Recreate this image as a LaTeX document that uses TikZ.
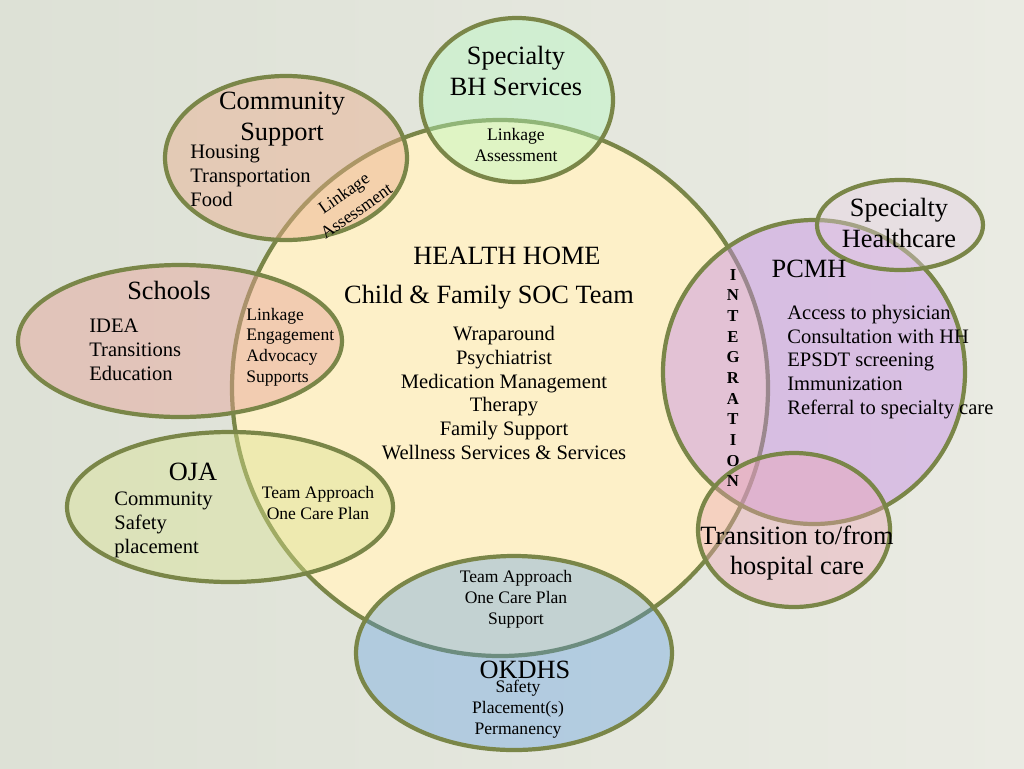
\documentclass[tikz,border=0pt]{standalone}
\usepackage{fontspec}
\setmainfont{Liberation Serif}
\usepackage{tikz}
\definecolor{rim}{RGB}{122,134,72}
\definecolor{bgleft}{RGB}{221,225,214}
\definecolor{bgright}{RGB}{234,235,227}
\definecolor{hhyellow}{RGB}{253,240,200}
\definecolor{bhgreen}{RGB}{180,252,192}
\definecolor{cspeach}{RGB}{234,172,140}
\definecolor{schpink}{RGB}{230,161,151}
\definecolor{ojagreen}{RGB}{217,227,142}
\definecolor{dhsblue}{RGB}{87,155,230}
\definecolor{pcmhlilac}{RGB}{197,139,229}
\definecolor{shcgray}{RGB}{230,207,229}
\definecolor{hosppink}{RGB}{235,164,180}

\begin{document}
\begin{tikzpicture}[x=0.02cm,y=-0.02cm]
  \tikzstyle{blob}=[draw=rim,line width=2.4pt,fill opacity=0.45]
  \tikzstyle{head}=[inner sep=0pt,align=center,font=\fontsize{15}{17.4}\selectfont]
  \tikzstyle{items}=[inner sep=0pt,align=left,anchor=west,font=\fontsize{11.7}{13.5}\selectfont]
  \tikzstyle{link}=[inner sep=0pt,align=center,font=\fontsize{10}{11.8}\selectfont]

  \shade[left color=bgleft,right color=bgright] (0,0) rectangle (1024,768);
  \useasboundingbox (0,0) rectangle (1024,768);

  % the circles
  \draw[blob,fill=hhyellow,fill opacity=1] (500,388) ellipse [x radius=268,y radius=268];
  \draw[blob,fill=bhgreen,fill opacity=0.4] (517,100) ellipse [x radius=96,y radius=82];
  \draw[blob,fill=cspeach]   (286,158) ellipse [x radius=121,y radius=82];
  \draw[blob,fill=schpink]   (180,341) ellipse [x radius=162,y radius=76];
  \draw[blob,fill=ojagreen,fill opacity=0.4] (230,507) ellipse [x radius=163,y radius=75];
  \draw[blob,fill=dhsblue,fill opacity=0.35] (514,653) ellipse [x radius=158,y radius=97];
  \draw[blob,fill=pcmhlilac] (814,372) ellipse [x radius=151,y radius=152];
  \draw[blob,fill=shcgray,fill opacity=0.4] (900,225) ellipse [x radius=83,y radius=45];
  \draw[blob,fill=hosppink,fill opacity=0.4] (794,530) ellipse [x radius=96,y radius=77];

  % health home
  \node[head] (hh)     at (507,256) {HEALTH HOME};
  \node[head] (team)   at (489,297) {Child \& Family SOC Team};
  \node[head,font=\fontsize{11.7}{13.6}\selectfont] (hhlist) at (504,393)
    {Wraparound\\Psychiatrist\\Medication Management\\Therapy\\Family Support\\Wellness Services \& Services};

  % specialty BH
  \node[head] (bh)     at (516,71)  {Specialty\\BH Services};
  \node[link] (bhlink) at (516,145) {Linkage\\Assessment};

  % community support
  \node[head] (cs)     at (282,119) {Community\\Support};
  \node[items] (cslist) at (190,176) {Housing\\Transportation\\Food};
  \node[link,rotate=35,font=\fontsize{10}{12.4}\selectfont] (cslink) at (350,202) {Linkage\\Assessment};

  % schools
  \node[head] (sch)     at (169,290) {Schools};
  \node[items] (schlist) at (89,350)  {IDEA\\Transitions\\Education};
  \node[link,align=left,anchor=west] (schlink) at (246,347)
    {Linkage\\Engagement\\Advocacy\\Supports};

  % oja
  \node[head] (oja)     at (193,472) {OJA};
  \node[items] (ojalist) at (114,525) {Community\\Safety\\placement};
  \node[link,font=\fontsize{10}{12}\selectfont] (ojalink) at (318,503) {Team Approach\\One Care Plan};

  % okdhs
  \node[link,font=\fontsize{10}{12}\selectfont] (dhslink) at (516,599) {Team Approach\\One Care Plan\\Support};
  \node[head] (dhs)     at (525,670) {OKDHS};
  \node[link,font=\fontsize{10}{12}\selectfont] (dhslist) at (518,709) {Safety\\Placement(s)\\Permanency};

  % pcmh
  \node[head] (pcmh)     at (809,269) {PCMH};
  \node[items] (pcmhlist) at (787,362) {Access to physician\\Consultation with HH\\EPSDT screening\\Immunization\\Referral to specialty care};
  \node[link,font=\bfseries\fontsize{9.5}{11.75}\selectfont] (integ) at (733,378)
    {I\\N\\T\\E\\G\\R\\A\\T\\I\\O\\N};

  % specialty healthcare and hospital
  \node[head] (shc)  at (899,223) {Specialty\\Healthcare};
  \node[head] (hosp) at (797,553) {Transition to/from\\hospital care};

\end{tikzpicture}
\end{document}
